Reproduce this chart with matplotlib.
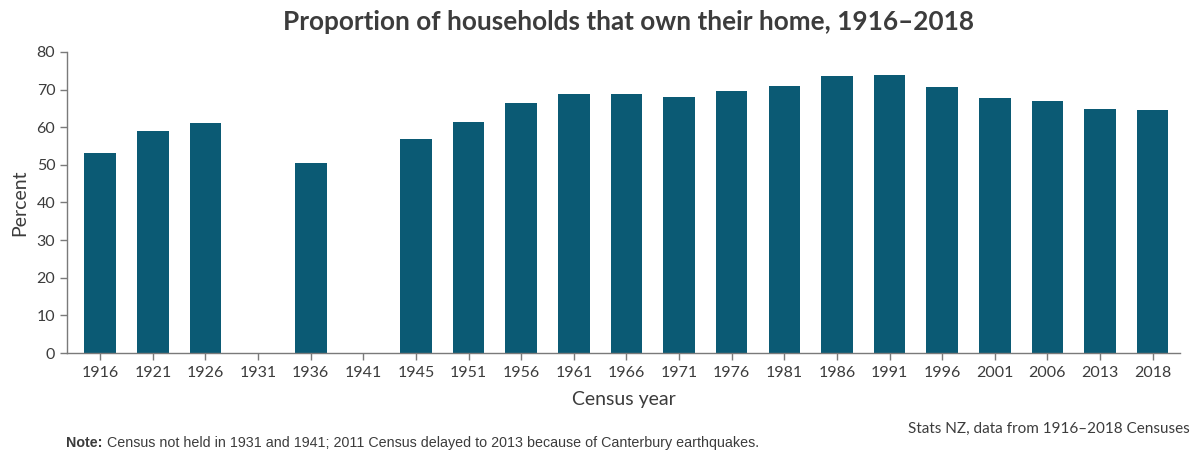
import numpy as np
import matplotlib.pyplot as plt

plt.rcParams['font.family'] = ['Lato', 'DejaVu Sans']

# census years and share of households owning their home (%)
years = ['1916', '1921', '1926', '1931', '1936', '1941', '1945', '1951', '1956', '1961',
         '1966', '1971', '1976', '1981', '1986', '1991', '1996', '2001', '2006', '2013', '2018']
owned = [53.2, 59.0, 61.2, np.nan, 50.5, np.nan, 56.9, 61.4, 66.4, 68.9,
         68.9, 68.1, 69.6, 71.0, 73.7, 73.9, 70.6, 67.7, 66.9, 64.8, 64.5]

bar_col = '#0b5a74'
axis_col = '#7a7a7a'
text_col = '#3c3c3c'

fig = plt.figure(figsize=(11.98, 4.55), dpi=100)
ax = fig.add_axes([0.056, 0.224, 0.929, 0.662])

x = np.arange(len(years))
ax.bar(x, np.nan_to_num(owned), width=0.6, color=bar_col, zorder=2)

ax.set_xlim(-0.63, len(years) - 0.48)
ax.set_ylim(0, 80)
ax.set_yticks(range(0, 81, 10))
ax.set_xticks(x)
ax.set_xticklabels(years)

for s in ['top', 'right']:
    ax.spines[s].set_visible(False)
for s in ['left', 'bottom']:
    ax.spines[s].set_color(axis_col)
    ax.spines[s].set_linewidth(1.0)
ax.tick_params(axis='both', colors=axis_col, labelcolor=text_col, labelsize=11.5,
               length=5, width=1)
ax.tick_params(axis='x', pad=4)

ax.set_ylabel('Percent', fontsize=14, color=text_col, labelpad=6)
ax.set_xlabel('Census year', fontsize=14, color=text_col, labelpad=8)
fig.suptitle('Proportion of households that own their home, 1916\u20132018',
             x=0.525, y=0.978, fontsize=18.8, fontweight='bold', color=text_col)

fig.text(0.993, 0.043, 'Stats NZ, data from 1916\u20132018 Censuses',
         ha='right', va='bottom', fontsize=11, color=text_col)
fig.text(0.055, 0.012, 'Note:', ha='left', va='bottom', fontsize=10.3,
         fontweight='bold', color=text_col, family='Liberation Sans')
fig.text(0.0895, 0.012,
         'Census not held in 1931 and 1941; 2011 Census delayed to 2013 because of Canterbury earthquakes.',
         ha='left', va='bottom', fontsize=10.3, color=text_col, family='Liberation Sans')

fig.savefig('out.png', dpi=100)
